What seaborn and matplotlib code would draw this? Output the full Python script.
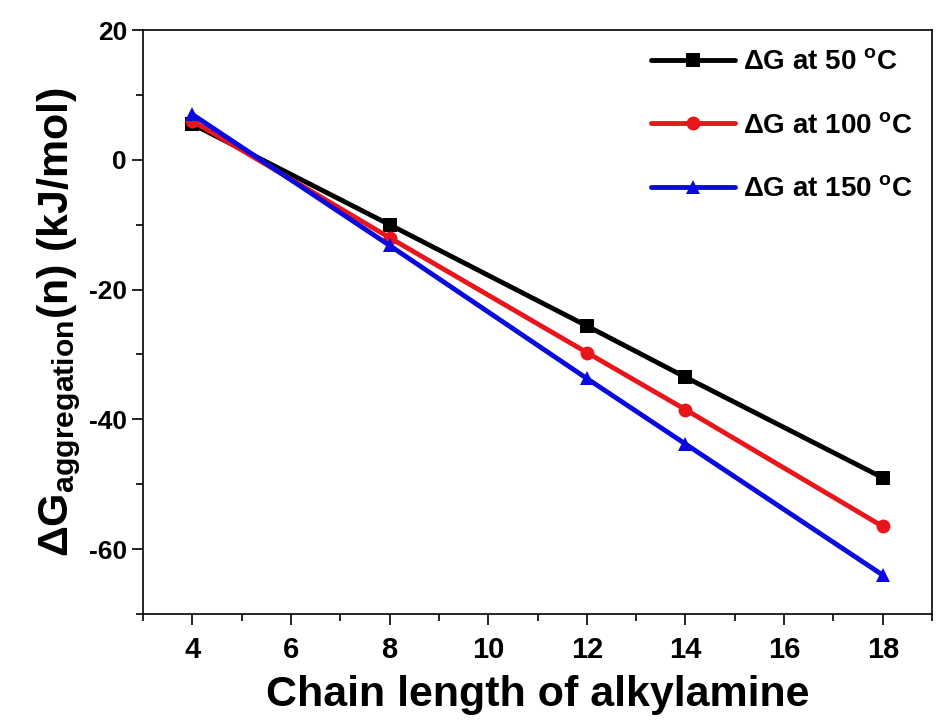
import numpy as np
import pandas as pd
import matplotlib
matplotlib.use("Agg")
import matplotlib.pyplot as plt
import seaborn as sns
from matplotlib.ticker import MultipleLocator

chain = [4, 8, 12, 14, 18]
dg_50 = [5.5, -10.0, -25.6, -33.5, -49.0]
dg_100 = [6.0, -12.0, -29.7, -38.5, -56.5]
dg_150 = [7.0, -13.2, -33.7, -43.8, -64.0]
series = ["ΔG at 50 $^{\\rm o}$C", "ΔG at 100 $^{\\rm o}$C", "ΔG at 150 $^{\\rm o}$C"]
colors = ["#000000", "#e8161b", "#0a0adf"]

df = pd.DataFrame({
    "x": chain * 3,
    "y": dg_50 + dg_100 + dg_150,
    "s": [series[0]] * 5 + [series[1]] * 5 + [series[2]] * 5,
})

sns.set_style("ticks")
plt.rcParams["font.family"] = ["Liberation Sans", "DejaVu Sans"]
plt.rcParams["font.weight"] = "bold"
plt.rcParams["axes.unicode_minus"] = False
plt.rcParams["text.color"] = "black"
plt.rcParams["axes.labelcolor"] = "black"
plt.rcParams["xtick.color"] = "black"
plt.rcParams["ytick.color"] = "black"
plt.rcParams["mathtext.fontset"] = "custom"
plt.rcParams["mathtext.rm"] = "Liberation Sans:bold"
plt.rcParams["mathtext.it"] = "Liberation Sans:bold"
plt.rcParams["mathtext.bf"] = "Liberation Sans:bold"

fig = plt.figure(figsize=(9.36, 7.27), dpi=100)
ax = fig.add_axes([0.1528, 0.1554, 0.843, 0.8033])

sns.lineplot(data=df, x="x", y="y", hue="s", style="s", hue_order=series,
             style_order=series, palette=colors, markers=["s", "o", "^"],
             dashes=False, lw=3.5, markersize=10, markeredgewidth=0, ax=ax)

ax.set_xlim(3, 19)
ax.set_ylim(-70, 20)
ax.xaxis.set_major_locator(MultipleLocator(2))
ax.xaxis.set_minor_locator(MultipleLocator(1))
ax.yaxis.set_major_locator(MultipleLocator(20))
ax.yaxis.set_minor_locator(MultipleLocator(10))
ax.tick_params(which="major", direction="out", length=8, width=1.2, labelsize=19,
               colors="black")
ax.tick_params(axis="x", which="major", labelsize=21, pad=8)
ax.tick_params(which="minor", direction="out", length=5, width=1.2, colors="black")
ax.tick_params(top=False, right=False, which="both")
for sp in ax.spines.values():
    sp.set_visible(True)
    sp.set_linewidth(1.2)
    sp.set_color("black")
for lab in ax.get_xticklabels() + ax.get_yticklabels():
    lab.set_fontweight("bold")

ax.set_xlabel("Chain length of alkylamine", fontsize=31, fontweight="bold",
              labelpad=8, color="black")
ax.set_ylabel("ΔG$_{\\rm aggregation}$(n) (kJ/mol)", fontsize=31,
              fontweight="bold", labelpad=4, color="black")

handles, labels = ax.get_legend_handles_labels()
leg = ax.legend(handles, labels, loc="upper right", frameon=False, fontsize=20,
                handlelength=3.0, labelspacing=1.35, handletextpad=0.3,
                borderaxespad=0.3)
for t in leg.get_texts():
    t.set_fontweight("bold")
    t.set_color("black")

fig.savefig("out.png", dpi=100)
